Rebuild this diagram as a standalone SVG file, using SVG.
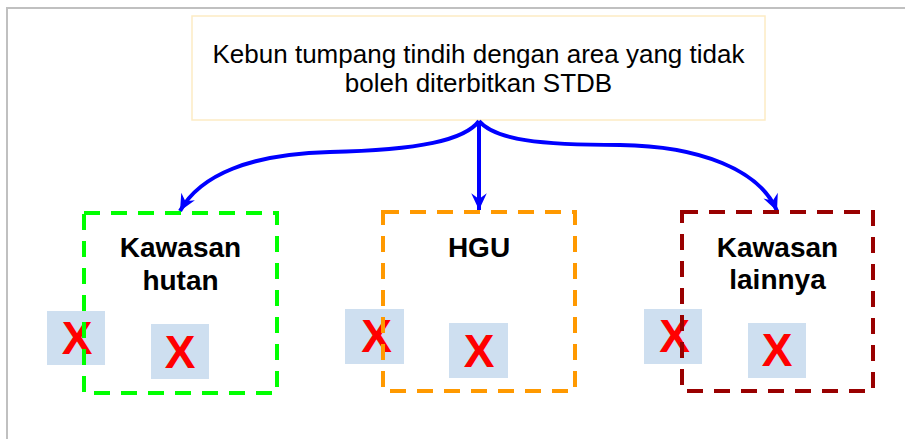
<svg xmlns="http://www.w3.org/2000/svg" width="905" height="439" viewBox="0 0 905 439">
<style>
.title{font-family:"Liberation Sans",Arial,sans-serif;font-size:26px;fill:#000;text-anchor:middle}
.lbl{font-family:"Liberation Sans",Arial,sans-serif;font-size:28px;font-weight:bold;fill:#000;text-anchor:middle}
.x{font-family:"Liberation Sans",Arial,sans-serif;font-size:46px;font-weight:bold;fill:#ff0000;text-anchor:middle}
.sq{fill:#cedff0}
.box{fill:none;stroke-width:4;stroke-dasharray:16 11}
.conn{fill:none;stroke:#0000ff;stroke-width:4;marker-end:url(#ah)}
</style>
<defs>
<marker id="ah" markerUnits="userSpaceOnUse" markerWidth="20" markerHeight="20" viewBox="-16 -8 18 16" refX="0" refY="0" orient="auto">
<path d="M0,0 L-15,-7 L-10,0 L-15,7 Z" fill="#0000ff"/>
</marker>
</defs>
<rect width="905" height="439" fill="#fff"/>
<path d="M7,439 V8 H905" fill="none" stroke="#c0c0c0" stroke-width="2"/>
<g id="top">
<rect x="192" y="16" width="573" height="104" fill="#fff" stroke="#fdebc4" stroke-width="1.5"/>
<text class="title" x="478.5" y="63">Kebun tumpang tindih dengan area yang tidak</text>
<text class="title" x="478.5" y="92">boleh diterbitkan STDB</text>
</g>
<g id="connectors">
<path class="conn" d="M479,121 C465,140 420,150 330,152 C250,154 200,175 180,211"/>
<path class="conn" d="M479,121 V210"/>
<path class="conn" d="M479,121 C495,140 540,145 620,145 C700,146 760,170 777,211"/>
</g>
<g id="hutan">
<rect class="sq" x="47" y="311" width="58" height="54"/>
<text class="x" x="77" y="354">X</text>
<rect class="sq" x="151" y="324" width="58" height="55"/>
<text class="x" x="180" y="368">X</text>
<rect class="box" x="84" y="213" width="193" height="180" stroke="#00ff00"/>
<text class="lbl" x="180.5" y="257">Kawasan</text>
<text class="lbl" x="180.5" y="290">hutan</text>
</g>
<g id="hgu">
<rect class="sq" x="345" y="309" width="59" height="55"/>
<text class="x" x="376.5" y="352">X</text>
<rect class="sq" x="449" y="323" width="59" height="55"/>
<text class="x" x="479" y="366.5">X</text>
<rect class="box" x="383" y="212" width="192" height="179" stroke="#ff9900"/>
<text class="lbl" x="479" y="257">HGU</text>
</g>
<g id="lainnya">
<rect class="sq" x="644" y="309" width="58" height="55"/>
<text class="x" x="674.5" y="352">X</text>
<rect class="sq" x="748" y="323" width="58" height="55"/>
<text class="x" x="777" y="366">X</text>
<rect class="box" x="682" y="212" width="191" height="179" stroke="#990000"/>
<text class="lbl" x="777.5" y="257">Kawasan</text>
<text class="lbl" x="777.5" y="289">lainnya</text>
</g>
</svg>
